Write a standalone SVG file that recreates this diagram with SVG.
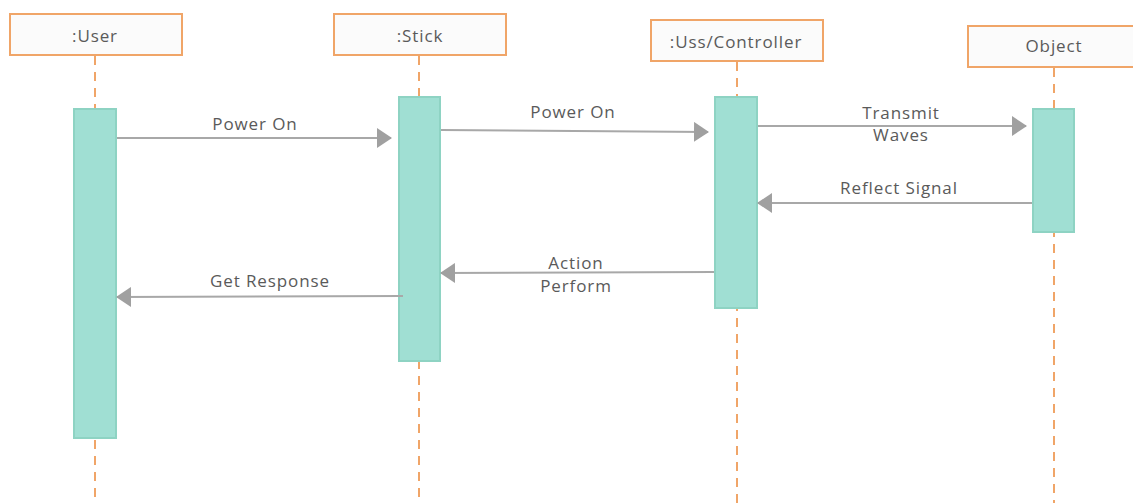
<svg xmlns="http://www.w3.org/2000/svg" width="1133" height="503" viewBox="0 0 1133 503">
<style>
.box{fill:#fbfbfb;stroke:#f0a568;stroke-width:2}
.life{stroke:#f0a568;stroke-width:2;stroke-dasharray:9 7;fill:none}
.act{fill:#a0dfd3;stroke:#8ed3c3;stroke-width:2}
.t{font-family:"Open Sans",Lato,sans-serif;font-size:17px;letter-spacing:0.9px;fill:#5a5a5a;text-anchor:middle}
.msg{stroke:#a8a8a8;stroke-width:2;fill:none}
</style>
<defs>
<marker id="ah" viewBox="0 0 15 20" refX="14" refY="10" markerWidth="15" markerHeight="20" markerUnits="userSpaceOnUse" orient="auto">
<path d="M0,0 L15,10 L0,20 Z" fill="#a0a0a0"/>
</marker>
</defs>
<rect width="1133" height="503" fill="#ffffff"/>
<g id="user">
<rect class="box" x="10" y="14" width="172" height="41"/>
<text class="t" x="95" y="42">:User</text>
<line class="life" x1="95" y1="56" x2="95" y2="503"/>
<rect class="act" x="74" y="109" width="42" height="329"/>
</g>
<g id="stick">
<rect class="box" x="334" y="14" width="172" height="41"/>
<text class="t" x="420" y="42">:Stick</text>
<line class="life" x1="419" y1="56" x2="419" y2="503"/>
<rect class="act" x="399" y="97" width="41" height="264"/>
</g>
<g id="controller">
<rect class="box" x="651" y="20" width="172" height="41"/>
<text class="t" x="736" y="48">:Uss/Controller</text>
<line class="life" x1="737" y1="62" x2="737" y2="503"/>
<rect class="act" x="715" y="97" width="42" height="211"/>
</g>
<g id="object">
<rect class="box" x="968" y="26" width="172" height="41"/>
<text class="t" x="1054" y="52">Object</text>
<line class="life" x1="1054" y1="68" x2="1054" y2="503"/>
<rect class="act" x="1033" y="109" width="41" height="123"/>
</g>
<g id="connectors">
<line class="msg" x1="117" y1="138" x2="391" y2="138" marker-end="url(#ah)"/>
<text class="t" x="255" y="130">Power On</text>
<line class="msg" x1="441" y1="130" x2="708" y2="132" marker-end="url(#ah)"/>
<text class="t" x="573" y="118">Power On</text>
<line class="msg" x1="758" y1="126" x2="1026" y2="126" marker-end="url(#ah)"/>
<text class="t" x="901" y="119">Transmit</text>
<text class="t" x="901" y="141">Waves</text>
<line class="msg" x1="1032" y1="203" x2="758" y2="203" marker-end="url(#ah)"/>
<text class="t" x="899" y="194">Reflect Signal</text>
<line class="msg" x1="714" y1="272" x2="441" y2="273" marker-end="url(#ah)"/>
<text class="t" x="576" y="269">Action</text>
<text class="t" x="576" y="292">Perform</text>
<line class="msg" x1="403" y1="296" x2="117" y2="297" marker-end="url(#ah)"/>
<text class="t" x="270" y="287">Get Response</text>
</g>
</svg>
